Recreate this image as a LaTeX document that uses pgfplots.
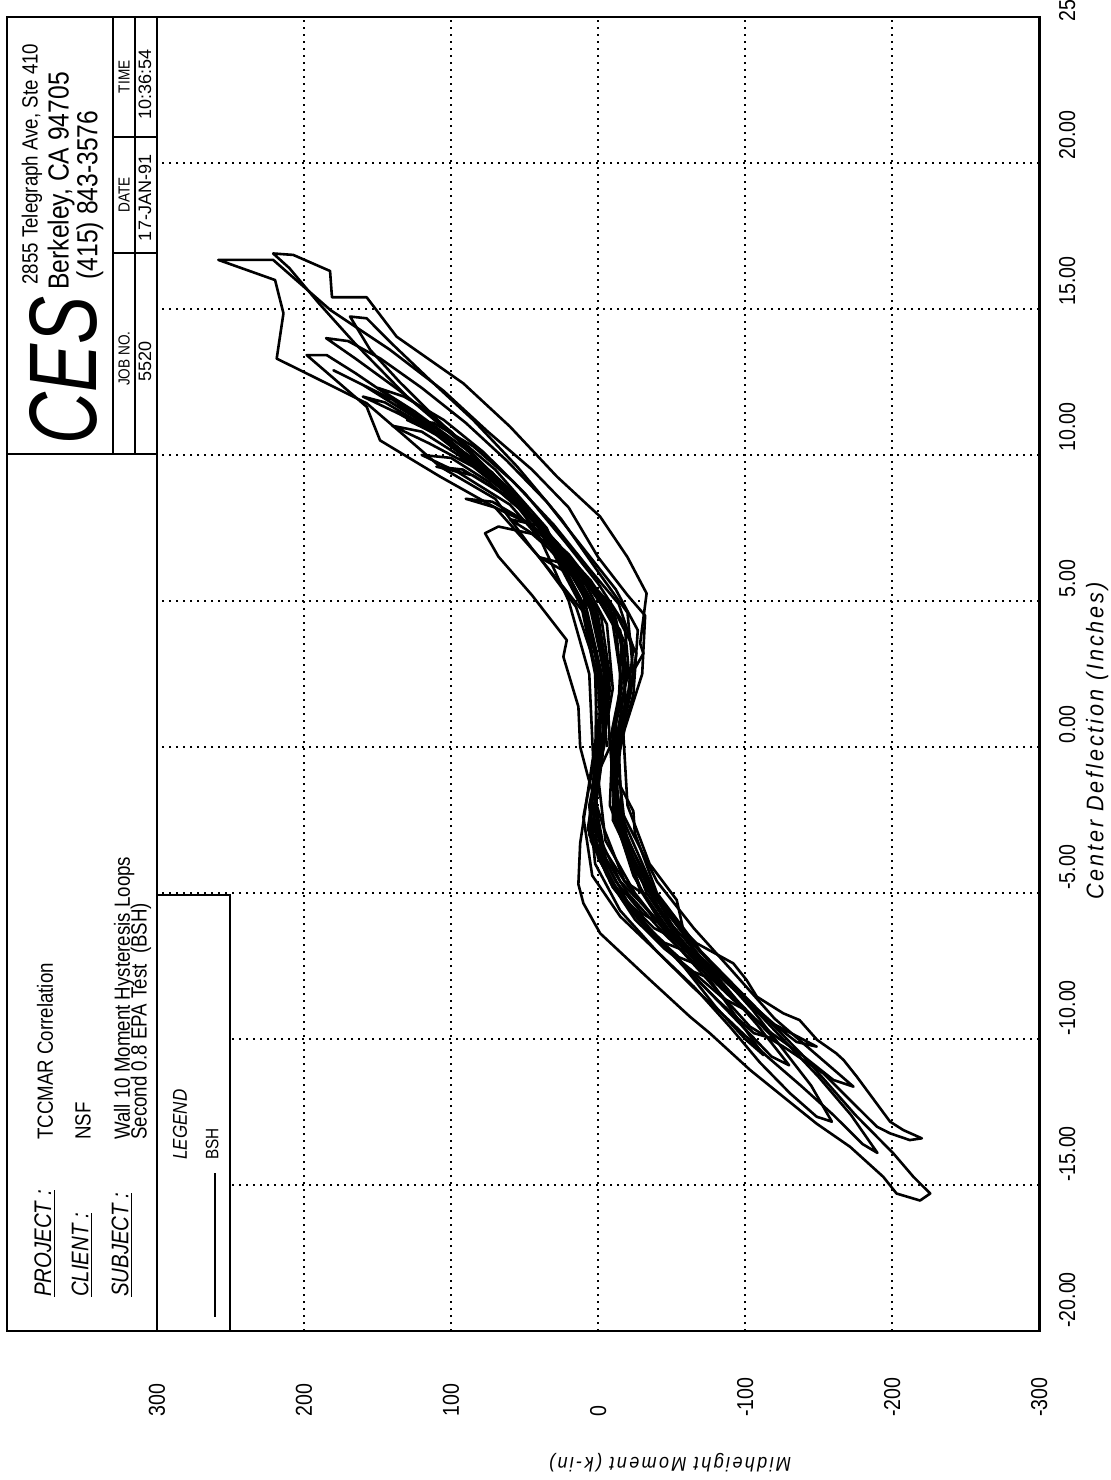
\documentclass[border=0pt]{standalone}
\usepackage{pgfplots}
\pgfplotsset{compat=1.18}
\usepackage{fontspec}
\setmainfont{Liberation Sans}[FakeStretch=0.85]
\newfontfamily\widefont{Liberation Sans}[FakeStretch=1.0]
\newfontfamily\cesfont{Liberation Sans}[FakeStretch=0.75]
\newfontfamily\labelfont{Liberation Sans}[FakeStretch=0.9, LetterSpace=12]
\begin{document}
\begin{tikzpicture}
\begin{axis}[
  scale only axis,
  width=516pt, height=657pt,
  x dir=reverse,
  xmin=-300, xmax=402,
  ymin=-20, ymax=25,
  clip=false,
  axis line style={line width=1.4pt},
  xtick={300,200,100,0,-100,-200,-300},
  xticklabels={300,200,100,0,-100,-200,-300},
  ytick={-20,-15,-10,-5,0,5,10,15,20,25},
  yticklabels={-20.00,-15.00,-10.00,-5.00,0.00,5.00,10.00,15.00,20.00,\kern-4pt 25},
  major tick length=0pt,
  grid=major,
  grid style={black, line width=0.9pt, dash pattern=on 0.9pt off 2.6pt},
  xticklabel style={rotate=90, anchor=west, inner sep=0pt, font=\fontsize{11.5}{11.5}\selectfont},
  xticklabel shift=43pt,
  yticklabel pos=right,
  yticklabel style={rotate=90, anchor=west, inner xsep=1.5pt, inner ysep=0pt, font=\fontsize{11.5}{11.5}\selectfont},
  yticklabel shift=14pt,
  hyst/.style={black, line width=1.3pt, line join=round, mark=none},
]
% cycle 1
\addplot[hyst] coordinates {(-6,0) (-2,2.5) (8,4.5) (24,5.5) (45,6.8) (70,8.5) (107.5,9.6) (135,10.8) (157.4,11.77) (200.5,12.85) (218.6,13.3) (214,14.85) (219.7,15.99) (258.3,16.68) (221,16.68) (182,14.96) (141.5,13.6) (105.2,12.2) (75,10.8) (45,9.5) (20,8.2) (0,6.5) (-20,5.2) (-32,4.5) (-30,2.5) (-18,0.6) (-15,-0.1) (-12.7,-1.1) (-24,-2.2) (-25,-2.95) (-40,-5.0) (-70,-7.0) (-105,-8.8) (-140,-10.6) (-175,-12.6) (-200.9,-13.92) (-214.5,-14.72) (-225.9,-15.29) (-219,-15.53) (-203,-15.29) (-194,-14.72) (-171.4,-13.69) (-148.7,-12.9) (-126,-11.98) (-103.4,-11.06) (-76,-9.8) (-62.6,-9.24) (-35.4,-7.98) (-1.4,-6.38) (10,-5.35) (13.4,-4.7) (12.2,-3.3) (3.4,-0.34)};
% cycle 2
\addplot[hyst] coordinates {(3.4,-0.34) (6,2.5) (20,5) (40,7.2) (60,8.7) (95,10.5) (130,12) (165,13.8) (190,15.2) (210,16.4) (221,16.9) (207.3,16.85) (182.3,16.3) (181,15.4) (157.4,15.4) (137,14.05) (91.6,12.45) (59.9,10.97) (28,9.26) (-1.4,7.89) (-20,6.5) (-33,5.26) (-28.6,3.55) (-30.8,3.2) (-24,2.6) (-17,0.6) (-20,-2) (-35,-4) (-53.5,-5.24) (-58,-6.27) (-67,-6.72) (-92,-7.41) (-101,-7.98) (-108,-8.55) (-126,-9.12) (-137,-9.35) (-149,-10.03) (-162,-10.49) (-167,-10.72) (-176,-11.29) (-198.6,-12.83) (-207.7,-13.12) (-220.2,-13.4) (-212,-13.46) (-198.6,-13.23) (-189.6,-13.0) (-171.4,-12.09) (-153.3,-11.18) (-126,-10.26) (-103.4,-9.58) (-75,-8.0) (-50,-6.6) (-25,-5.0) (-5,-3.2) (0,-1)};
% cycle 3
\addplot[hyst] coordinates {(0,-1) (2,2.5) (12,5) (35,7.5) (70,9.5) (105,11) (135,12.5) (155,13.6) (168.7,14.74) (157.4,14.68) (140,13.8) (115,12.6) (85,11.2) (55,9.6) (25,7.8) (0,6) (-20,4.6) (-24,2.5) (-12,0.3) (-10,-2.5) (-30,-4.6) (-55,-6.2) (-80,-7.6) (-105,-9.0) (-125,-10.3) (-145,-11.6) (-159,-12.83) (-148.7,-12.66) (-130.6,-11.86) (-110,-10.8) (-90,-9.6) (-65,-8.2) (-40,-7.0) (-15,-5.6) (2,-4) (6,-2) (-2,0)};
% cycle 4
\addplot[hyst] coordinates {(-2,0) (0,2.5) (15,4.8) (40,6.5) (70,8.2) (107.5,9.26) (148.3,10.5) (157.4,11.65) (198.2,13.42) (184.6,13.42) (165,12.8) (130,11.6) (100,10.4) (70,9.2) (45,7.6) (15,6.0) (-12,4.6) (-26,3.2) (-22,1.8) (-14,0) (-16,-2.2) (-40,-4.6) (-65,-6.2) (-90,-7.6) (-120,-9.3) (-150,-10.6) (-173.7,-11.63) (-160,-11.4) (-140,-10.6) (-118,-9.8) (-95,-8.8) (-70,-7.6) (-45,-6.4) (-20,-5.0) (-5,-3.8) (5,-2) (0,0)};
% cycle 5
\addplot[hyst] coordinates {(0,0) (-4,2.5) (5,5) (28,6.8) (55,8.5) (90,10) (125,11.3) (160,12.4) (180,12.9) (168,12.6) (140,11.9) (110,10.9) (80,9.6) (52,8.2) (25,6.7) (5,5.4) (-15,4) (-20,2.4) (-10,0.4) (-8,-2) (-25,-4.2) (-45,-5.8) (-70,-7.2) (-95,-8.4) (-120,-9.5) (-148.7,-10.26) (-135,-10.1) (-112,-9.2) (-88,-8.1) (-62,-6.9) (-38,-5.8) (-15,-4.6) (0,-3) (2,-1) (-5,0.3)};
% cycle 6
\addplot[hyst] coordinates {(-5,0.3) (-2,2.6) (10,5.2) (35,7.3) (65,9.0) (100,10.4) (135,11.4) (160,12.0) (145,11.8) (118,11.0) (90,9.9) (62,8.8) (35,7.4) (10,5.9) (-10,4.8) (-18,3) (-12,1) (-12,-1.5) (-22,-3.6) (-40,-5.4) (-62,-7.0) (-85,-8.6) (-112.5,-10.55) (-100,-10.0) (-80,-8.9) (-58,-7.5) (-35,-6.2) (-12,-4.8) (4,-3.2) (1,-1) (-8,0)};
% cycle 7
\addplot[hyst] coordinates {(-8,0) (-6,2.3) (3,4.6) (22,6.5) (50,8.2) (85,9.6) (115,10.4) (140,11.0) (120,10.8) (95,10) (68,9) (42,7.8) (18,6.4) (-2,5) (-16,3.6) (-14,1.5) (-9,-0.5) (-18,-3) (-33,-5) (-52,-6.4) (-75,-7.7) (-100,-9) (-85,-8.6) (-62,-7.6) (-42,-6.7) (-22,-5.6) (-6,-4.4) (7,-2.8) (0,-0.6)};
% cycle 8
\addplot[hyst] coordinates {(0,-0.6) (-3,2) (8,4.5) (30,6.6) (60,8.3) (95,9.4) (120,10.0) (100,9.9) (75,9.1) (50,8.0) (25,6.8) (5,5.5) (-10,4.2) (-16,2.2) (-8,0.2) (-12,-2.6) (-28,-4.8) (-50,-6.4) (-80,-8.0) (-65,-7.7) (-45,-6.9) (-25,-5.9) (-8,-4.6) (3,-2.5) (-3,-0.3)};
% cycle 9
\addplot[hyst] coordinates {(-3,-0.3) (-5,2.4) (2,4.8) (20,6.4) (45,7.6) (70,8.2) (90,8.5) (72,8.4) (48,7.7) (25,6.8) (5,5.7) (-12,4.4) (-20,2.6) (-13,0.4) (-10,-2.2) (-24,-4.4) (-40,-5.8) (-60,-7.0) (-45,-6.7) (-28,-5.9) (-10,-4.8) (5,-3.2) (-1,-0.8)};
% cycle 10
\addplot[hyst] coordinates {(-1,-0.8) (-8,2) (0,4.5) (20,6.2) (45,7.3) (67.8,7.55) (76.9,7.32) (67.8,6.52) (45,5.2) (21.3,3.66) (23.6,3.09) (13.4,1.38) (12.2,0.01) (6.6,-1.07) (-4,-2.8) (-18,-4.6) (-40,-6.0) (-30,-5.7) (-12,-4.6) (4,-3) (0,-1)};
% cycle 11
\addplot[hyst] coordinates {(0,-1) (-7,2.2) (2,4.4) (25,6.6) (55,8.6) (90,10.2) (125,11.5) (150,12.3) (132,12.0) (105,11.2) (78,10.1) (50,8.7) (22,7.0) (0,5.6) (-18,4.2) (-22,2.0) (-12,-0.2) (-14,-2.4) (-32,-4.5) (-55,-6.5) (-82,-8.0) (-108,-9.5) (-130,-10.9) (-118,-10.6) (-95,-9.4) (-72,-8.2) (-50,-7.0) (-28,-5.9) (-8,-4.5) (6,-2.6) (2,-0.5)};
% cycle 12
\addplot[hyst] coordinates {(2,-0.5) (1,2.3) (10,4.9) (32,7.0) (65,9.0) (100,10.8) (135,12.2) (165,13.3) (185,14.0) (170,13.9) (148,13.3) (120,12.3) (90,11.1) (62,9.8) (35,8.4) (10,6.8) (-12,5.4) (-27,4.0) (-24,1.8) (-13,-0.3) (-18,-2.6) (-38,-4.9) (-62,-6.6) (-90,-8.1) (-120,-9.7) (-150,-11.3) (-172,-12.6) (-190,-13.9) (-180,-13.6) (-160,-12.6) (-138,-11.6) (-115,-10.6) (-90,-9.4) (-64,-8.2) (-40,-7.0) (-15,-5.8) (4,-4.4) (10,-2.4) (1,0)};
% cycle 13
\addplot[hyst] coordinates {(1,0) (-4,2.6) (6,4.9) (26,6.9) (55,8.4) (85,9.3) (110,9.6) (92,9.5) (66,8.7) (40,7.6) (15,6.2) (-5,5.0) (-18,3.6) (-18,1.4) (-10,-0.4) (-14,-2.8) (-30,-5.0) (-48,-6.4) (-70,-7.5) (-55,-7.2) (-35,-6.3) (-16,-5.2) (0,-3.8) (4,-1.8) (-4,0)};
% cycle 14
\addplot[hyst] coordinates {(-4,0) (-8,2.4) (-2,4.5) (15,5.8) (40,6.5) (25,6.3) (5,5.4) (-12,4.2) (-16,2) (-9,0) (-12,-2.2) (-22,-4.0) (-30,-5.0) (-18,-4.6) (-4,-3.5) (3,-1.6) (-3,0)};
% cycle 15
\addplot[hyst] coordinates {(-3,0) (-10,2.0) (-6,4.2) (12,5.9) (35,7.0) (60,7.8) (42,7.6) (20,6.6) (0,5.3) (-15,3.8) (-19,1.6) (-11,-0.6) (-16,-2.8) (-28,-4.8) (-50,-6.5) (-38,-6.2) (-20,-5.3) (-6,-4.0) (2,-2.2) (-4,0.2)};
% cycle 16
\addplot[hyst] coordinates {(-4,0.2) (-1,2.7) (12,5.1) (38,7.4) (72,9.4) (105,10.6) (130,11.2) (112,11.1) (85,10.3) (58,9.1) (30,7.6) (6,6.1) (-14,4.9) (-24,3.4) (-19,1.2) (-10,-1) (-20,-3.2) (-42,-5.3) (-68,-7.1) (-95,-8.7) (-120,-10.0) (-106,-9.8) (-82,-8.7) (-56,-7.4) (-32,-6.1) (-10,-4.8) (6,-3.0) (3,-1) (-2,0)};

% header block
\filldraw[fill=white, draw=black, line width=1.4pt] (axis cs:402,25) rectangle (axis cs:300,-20);
\draw[line width=1.2pt] (axis cs:402,10.03) -- (axis cs:300,10.03);
\draw[line width=1.0pt] (axis cs:330,25) -- (axis cs:330,10.03);
\draw[line width=1.0pt] (axis cs:315,25) -- (axis cs:315,10.03);
\draw[line width=1.0pt] (axis cs:330,20.89) -- (axis cs:300,20.89);
\draw[line width=1.0pt] (axis cs:330,16.92) -- (axis cs:300,16.92);
% legend box
\filldraw[fill=white, draw=black, line width=1.4pt] (axis cs:300,-5.07) rectangle (axis cs:250.3,-20);
\draw[line width=1.3pt] (axis cs:260.5,-14.59) -- (axis cs:260.5,-19.52);

% CES block text
\node[rotate=90, anchor=west, inner sep=0pt, font=\fontsize{48}{48}\selectfont\cesfont\itshape] at (axis cs:363.5,10.34) {CES};
\node[rotate=90, anchor=west, inner sep=0pt, font=\fontsize{11}{11}\selectfont] at (axis cs:385,15.82) {2855 Telegraph Ave, Ste 410};
\node[rotate=90, anchor=west, inner sep=0pt, font=\fontsize{14.5}{14.5}\selectfont] at (axis cs:365.3,15.65) {Berkeley, CA 94705};
\node[rotate=90, anchor=west, inner sep=0pt, font=\fontsize{14.5}{14.5}\selectfont] at (axis cs:345.6,16.0) {(415) 843-3576};
\node[rotate=90, anchor=center, inner sep=0pt, font=\fontsize{8}{8}\selectfont] at (axis cs:322.4,22.95) {TIME};
\node[rotate=90, anchor=center, inner sep=0pt, font=\fontsize{8}{8}\selectfont] at (axis cs:322.4,18.9) {DATE};
\node[rotate=90, anchor=center, inner sep=0pt, font=\fontsize{8}{8}\selectfont] at (axis cs:322.4,13.3) {JOB NO.};
\node[rotate=90, anchor=center, inner sep=0pt, font=\fontsize{9}{9}\selectfont\widefont] at (axis cs:308.2,22.7) {10:36:54};
\node[rotate=90, anchor=center, inner sep=0pt, font=\fontsize{9}{9}\selectfont\widefont] at (axis cs:308.2,18.8) {17-JAN-91};
\node[rotate=90, anchor=center, inner sep=0pt, font=\fontsize{9}{9}\selectfont\widefont] at (axis cs:308.2,13.2) {5520};

% project block text
\node[rotate=90, anchor=west, inner sep=0pt, font=\fontsize{12}{12}\selectfont\itshape] at (axis cs:376.2,-18.84) {\underline{PROJECT :}};
\node[rotate=90, anchor=west, inner sep=0pt, font=\fontsize{12}{12}\selectfont\itshape] at (axis cs:351,-18.84) {\underline{CLIENT :}};
\node[rotate=90, anchor=west, inner sep=0pt, font=\fontsize{12}{12}\selectfont\itshape] at (axis cs:323.8,-18.84) {\underline{SUBJECT :}};
\node[rotate=90, anchor=west, inner sep=0pt, font=\fontsize{11}{11}\selectfont] at (axis cs:376.2,-13.46) {TCCMAR Correlation};
\node[rotate=90, anchor=west, inner sep=0pt, font=\fontsize{11}{11}\selectfont] at (axis cs:350.3,-13.46) {NSF};
\node[rotate=90, anchor=west, inner sep=0pt, font=\fontsize{11}{11}\selectfont] at (axis cs:322.4,-13.46) {Wall 10 Moment Hysteresis Loops};
\node[rotate=90, anchor=west, inner sep=0pt, font=\fontsize{11}{11}\selectfont] at (axis cs:310.9,-13.46) {Second 0.8 EPA Test\ \ (BSH)};
\node[rotate=90, anchor=west, inner sep=0pt, font=\fontsize{10}{10}\selectfont\itshape] at (axis cs:284.4,-14.14) {LEGEND};
\node[rotate=90, anchor=west, inner sep=0pt, font=\fontsize{9}{9}\selectfont] at (axis cs:262.5,-14.14) {BSH};

% axis labels
\node[rotate=180, anchor=center, inner sep=0pt, font=\fontsize{10}{10}\selectfont\labelfont\itshape] at (axis cs:-49,-24.49) {Midheight Moment (k-in)};
\node[rotate=90, anchor=center, inner sep=0pt, font=\fontsize{12}{12}\selectfont\labelfont\itshape] at (axis cs:-339.5,0.2) {Center Deflection (Inches)};

\coordinate (pgTL) at (axis cs:406.8,25.58);
\coordinate (pgBR) at (axis cs:-348.3,-25.1);
\end{axis}
\pgfresetboundingbox
\path[use as bounding box] (pgTL) rectangle (pgBR);
\end{tikzpicture}
\end{document}
